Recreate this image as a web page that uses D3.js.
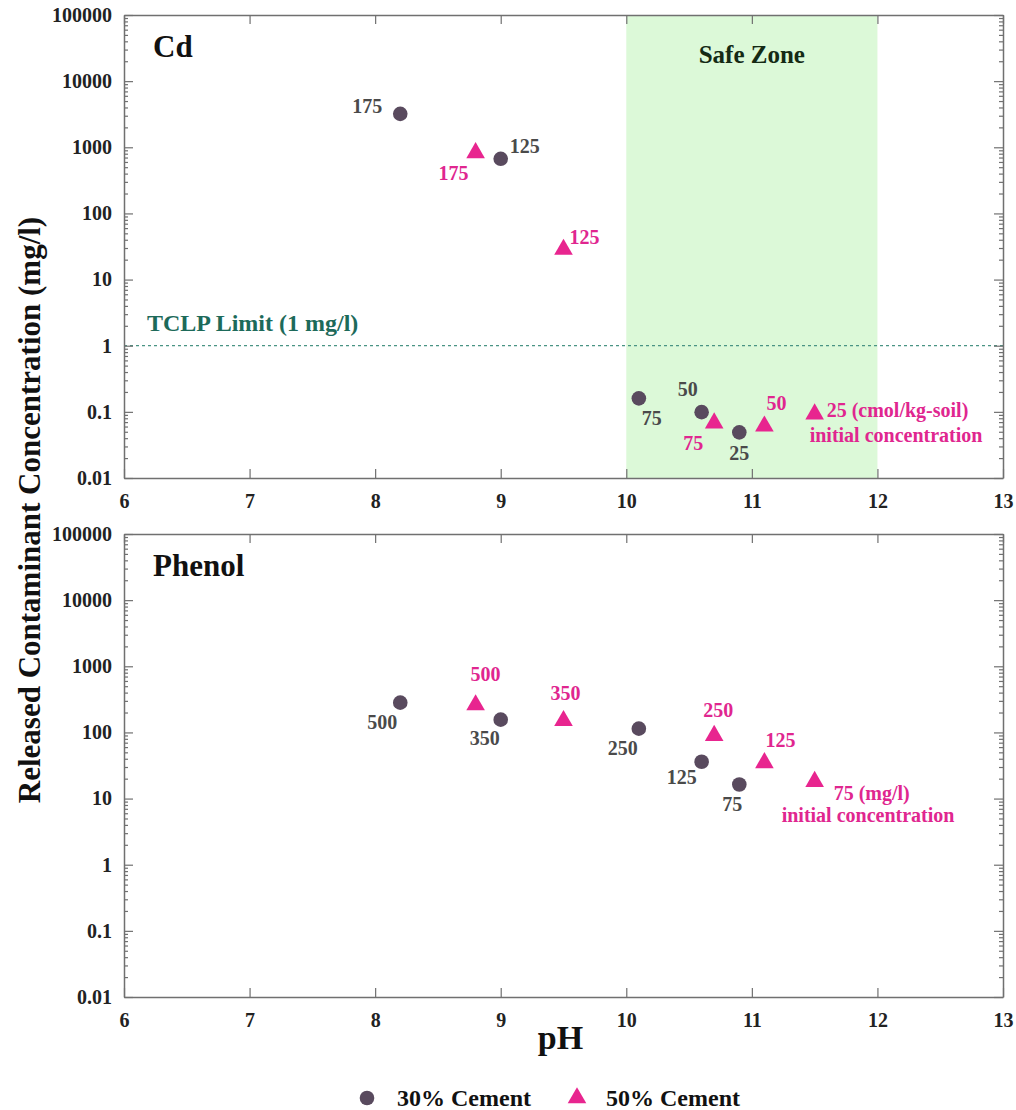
<!DOCTYPE html>
<html><head><meta charset="utf-8">
<script src="https://cdn.jsdelivr.net/npm/d3@7"></script>
<style>
body{margin:0;background:#fff;}
svg text{font-family:"Liberation Serif","Times New Roman",serif;font-weight:bold;}
</style></head>
<body><svg id="c" width="1016" height="1110"></svg>
<script>
// ---------- data ----------
const xTicks = [6, 7, 8, 9, 10, 11, 12, 13];
const yTicks = [0.01, 0.1, 1, 10, 100, 1000, 10000, 100000];
const yTickLabels = ["0.01", "0.1", "1", "10", "100", "1000", "10000", "100000"];

// Cd panel
const cdPh30 = [8.2, 9.0, 10.1, 10.6, 10.9];
const cdConc30 = [3200, 670, 0.16, 0.099, 0.049];
const cdLab30 = ["175", "125", "75", "50", "25"];
const cdPh50 = [8.8, 9.5, 10.7, 11.1, 11.5];
const cdConc50 = [855, 29.5, 0.07, 0.063, 0.096];
const cdLab50 = ["175", "125", "75", "50", "25 (cmol/kg-soil)"];

// Phenol panel
const phPh30 = [8.2, 9.0, 10.1, 10.6, 10.9];
const phConc30 = [282, 156, 114, 36, 16.3];
const phLab30 = ["500", "350", "250", "125", "75"];
const phPh50 = [8.8, 9.5, 10.7, 11.1, 11.5];
const phConc50 = [270, 156, 93, 36, 18.7];
const phLab50 = ["500", "350", "250", "125", "75 (mg/l)"];

const safeZone = [10, 12];
const tclpLimit = 1;

// ---------- label placement (pixels, relative to marker) ----------
const cdOff30 = [[-33,-8],[24,-13],[13,20],[-14,-23],[0,21]];
const cdOff50 = [[-22,21],[21,-11],[-21,21],[12,-22],[12,-3]];
const phOff30 = [[-18,19],[-16,18],[-16,19],[-20,15],[-7,19]];
const phOff50 = [[10,-30],[2,-27],[4,-25],[16,-22],[19,12]];

// ---------- style ----------
const C30 = "#594a5e", C50 = "#e8258f", L30 = "#4a4a4a", L50 = "#e0268f";
const AX = "#707070";
const svg = d3.select("#c");
const left = 124, right = 1003;
const x = d3.scaleLinear().domain([6, 13]).range([left, right]);

function panel(top, bottom, opts) {
  const y = d3.scaleLog().domain([0.01, 100000]).range([bottom, top]);
  const g = svg.append("g");
  if (opts.safe) {
    g.append("rect").attr("x", x(safeZone[0])).attr("y", top)
      .attr("width", x(safeZone[1]) - x(safeZone[0])).attr("height", bottom - top)
      .attr("fill", "#dcf9d8");
    g.append("text").attr("x", (x(safeZone[0]) + x(safeZone[1])) / 2).attr("y", top + 48)
      .attr("text-anchor", "middle").attr("font-size", 25).attr("fill", "#142a14").text("Safe Zone");
  }
  if (opts.tclp) {
    g.append("line").attr("x1", left).attr("x2", right).attr("y1", y(tclpLimit)).attr("y2", y(tclpLimit))
      .attr("stroke", "#4a9484").attr("stroke-width", 1.3).attr("stroke-dasharray", "3,3");
    g.append("text").attr("x", left + 23).attr("y", y(tclpLimit) - 15)
      .attr("font-size", 24).attr("fill", "#1d6a5a").text("TCLP Limit (1 mg/l)");
  }
  const minor = [];
  for (let e = -2; e < 5; e++) for (let m = 2; m <= 9; m++) minor.push(m * Math.pow(10, e));
  const styleAx = sel => {
    sel.selectAll(".domain").attr("stroke", AX).attr("stroke-width", 1.5);
    sel.selectAll(".tick line").attr("stroke", AX).attr("stroke-width", 1.2);
  };
  // x axes
  g.append("g").attr("transform", `translate(0,${bottom})`)
    .call(d3.axisBottom(x).tickValues(xTicks).tickSizeInner(-9).tickSizeOuter(0).tickPadding(16).tickFormat(d3.format("d")))
    .call(styleAx)
    .call(s => s.selectAll("text").attr("font-size", 20).attr("fill", "#222").attr("font-family", "Liberation Serif").attr("font-weight", "bold"));
  g.append("g").attr("transform", `translate(0,${top})`)
    .call(d3.axisTop(x).tickValues(xTicks).tickSizeInner(-9).tickSizeOuter(0).tickFormat(""))
    .call(styleAx);
  // y axes (major + minor)
  g.append("g").attr("transform", `translate(${left},0)`)
    .call(d3.axisLeft(y).tickValues(yTicks).tickSizeInner(-9).tickSizeOuter(0).tickPadding(12)
      .tickFormat((d, i) => yTickLabels[i]))
    .call(styleAx)
    .call(s => s.selectAll("text").attr("font-size", 20).attr("fill", "#222").attr("font-family", "Liberation Serif").attr("font-weight", "bold"));
  g.append("g").attr("transform", `translate(${left},0)`)
    .call(d3.axisLeft(y).tickValues(minor).tickSizeInner(-4).tickSizeOuter(0).tickFormat(""))
    .call(styleAx).call(s => s.select(".domain").remove());
  g.append("g").attr("transform", `translate(${right},0)`)
    .call(d3.axisRight(y).tickValues(yTicks).tickSizeInner(-9).tickSizeOuter(0).tickFormat(""))
    .call(styleAx);
  g.append("g").attr("transform", `translate(${right},0)`)
    .call(d3.axisRight(y).tickValues(minor).tickSizeInner(-4).tickSizeOuter(0).tickFormat(""))
    .call(styleAx).call(s => s.select(".domain").remove());

  g.append("text").attr("x", left + 29).attr("y", top + 42).attr("font-size", 31).attr("fill", "#111").text(opts.title);

  const s30 = opts.ph30.map((p, i) => ({ p, v: opts.c30[i], lab: opts.l30[i], off: opts.o30[i] }));
  const s50 = opts.ph50.map((p, i) => ({ p, v: opts.c50[i], lab: opts.l50[i], off: opts.o50[i] }));
  g.selectAll(".c30").data(s30).join("circle")
    .attr("cx", d => x(d.p)).attr("cy", d => y(d.v)).attr("r", 7.3).attr("fill", C30);
  const tri = d3.symbol().type(d3.symbolTriangle).size(150);
  g.selectAll(".t50").data(s50).join("path")
    .attr("d", tri).attr("transform", d => `translate(${x(d.p)},${y(d.v) + 1})`).attr("fill", C50);

  g.selectAll(".l30").data(s30).join("text")
    .attr("x", d => x(d.p) + d.off[0]).attr("y", d => y(d.v) + d.off[1])
    .attr("text-anchor", "middle").attr("dominant-baseline", "central")
    .attr("font-size", 20).attr("fill", L30).text(d => d.lab);
  g.selectAll(".l50").data(s50).join("text")
    .attr("x", d => x(d.p) + d.off[0]).attr("y", d => y(d.v) + d.off[1])
    .attr("text-anchor", (d, i) => i === s50.length - 1 ? "start" : "middle").attr("dominant-baseline", "central")
    .attr("font-size", 20).attr("fill", L50).text(d => d.lab);
  const last = s50[s50.length - 1];
  g.append("text").attr("x", x(last.p) + opts.noteOff[0]).attr("y", y(last.v) + opts.noteOff[1])
    .attr("dominant-baseline", "central").attr("font-size", 20).attr("fill", L50).text("initial concentration");
}

panel(15, 478, { safe: true, tclp: true, title: "Cd",
  ph30: cdPh30, c30: cdConc30, l30: cdLab30, o30: cdOff30,
  ph50: cdPh50, c50: cdConc50, l50: cdLab50, o50: cdOff50, noteOff: [-5, 22] });
panel(534, 997, { safe: false, tclp: false, title: "Phenol",
  ph30: phPh30, c30: phConc30, l30: phLab30, o30: phOff30,
  ph50: phPh50, c50: phConc50, l50: phLab50, o50: phOff50, noteOff: [-33, 34] });

// axis titles
svg.append("text").attr("transform", "translate(40,510) rotate(-90)").attr("text-anchor", "middle")
  .attr("font-size", 31).attr("fill", "#111").text("Released Contaminant Concentration (mg/l)");
svg.append("text").attr("x", (left + right) / 2 - 3).attr("y", 1049).attr("text-anchor", "middle")
  .attr("font-size", 34).attr("fill", "#111").text("pH");

// legend
const lg = svg.append("g");
lg.append("circle").attr("cx", 367).attr("cy", 1098).attr("r", 7.3).attr("fill", C30);
lg.append("text").attr("x", 397).attr("y", 1106).attr("font-size", 24).attr("fill", "#111").text("30% Cement");
lg.append("path").attr("d", d3.symbol().type(d3.symbolTriangle).size(150)).attr("transform", "translate(577,1098)").attr("fill", C50);
lg.append("text").attr("x", 606).attr("y", 1106).attr("font-size", 24).attr("fill", "#111").text("50% Cement");
</script></body></html>
